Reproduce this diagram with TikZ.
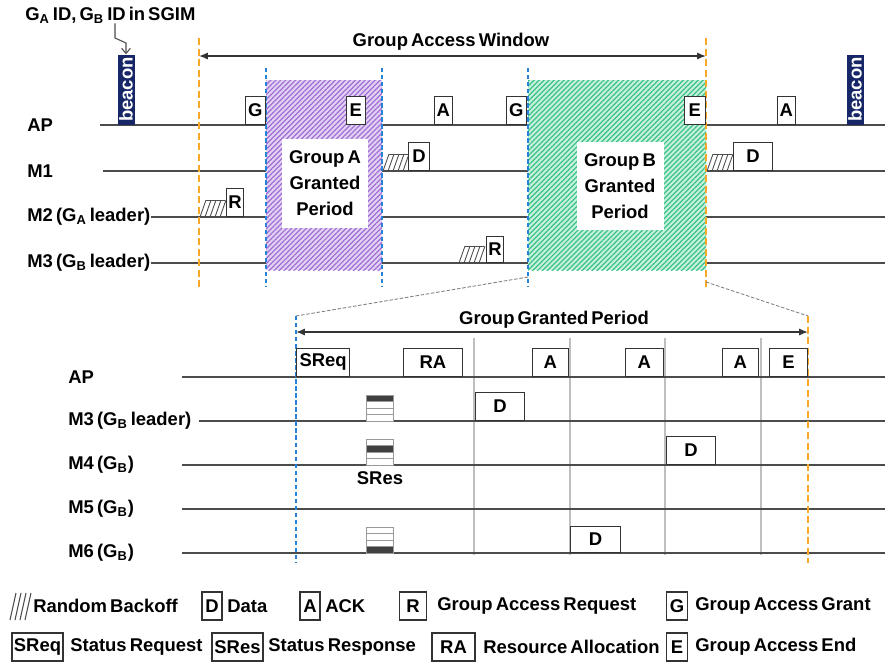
\documentclass[tikz,border=0pt]{standalone}
\usepackage{fontspec}
\setmainfont{Liberation Sans}[WordSpace=0.6]
\usetikzlibrary{arrows.meta,patterns.meta}

\definecolor{beaconblue}{RGB}{22,38,102}
\definecolor{winorange}{RGB}{250,168,40}
\definecolor{perblue}{RGB}{40,130,215}
\definecolor{grpApurple}{RGB}{160,110,212}
\definecolor{grpAbg}{RGB}{226,210,243}
\definecolor{grpBgreen}{RGB}{55,195,135}
\definecolor{grpBbg}{RGB}{200,240,220}

\tikzset{
  txt/.style={font=\bfseries\fontsize{10.5}{13}\selectfont, inner sep=0pt},
  pkt/.style={draw=black!80, line width=0.7pt, fill=white, inner sep=0pt,
    minimum height=0.56cm, font=\bfseries\fontsize{10.5}{13}\selectfont},
  tline/.style={black!70, line width=0.9pt},
  windash/.style={winorange, line width=1.5pt, dash pattern=on 4pt off 2pt},
  perdash/.style={perblue, line width=1pt, dash pattern=on 2.5pt off 1.5pt},
  slotline/.style={black!25, line width=0.6pt},
  zoomline/.style={black!50, line width=0.5pt, dash pattern=on 2pt off 1pt},
  spanarrow/.style={black!80, line width=0.8pt,
    {Latex[length=5pt,width=4pt]}-{Latex[length=5pt,width=4pt]}},
  beacon/.style={fill=beaconblue, text=white, rotate=90, minimum width=1.4cm,
    minimum height=0.34cm, inner sep=0pt, font=\bfseries\fontsize{10.5}{13}\selectfont},
  granted/.style={fill=white, align=center, inner sep=0pt,
    font=\bfseries\fontsize{10.5}{14.8}\selectfont},
  hatch/.style={pattern={Lines[angle=45,distance=2pt,line width=0.7pt]}}
}

% random backoff: bottom left x, y
\newcommand{\bkoff}[2]{%
  \draw[black!70, line width=0.5pt] (#1+6,#2-17) -- (#1+25,#2-17);
  \foreach \k in {0,5,10,15,20}
    \draw[black!70, line width=0.5pt] (#1+\k,#2) -- (#1+\k+6,#2-17);
}
% status response stack: x, bottom y, dark stripe
\newcommand{\sresbox}[3]{%
  \foreach \s in {1,...,4}{
    \pgfmathsetmacro\yt{#2-26+(\s-1)*6.5}
    \ifnum\s=#3 \def\stripecol{black!75}\else\def\stripecol{white}\fi
    \draw[black!40, line width=0.5pt, fill=\stripecol] (#1,\yt) rectangle (#1+27,\yt+6.5);
  }
}

\begin{document}
\begin{tikzpicture}[x=0.02cm, y=-0.02cm]
\useasboundingbox (0,0) rectangle (888,664);

% ---- group access window ----
\node[txt, anchor=west] (apT) at (27,125) {AP};
\node[txt, anchor=west] (m1T) at (27,171) {M1};
\node[txt, anchor=west] (m2T) at (27,217) {M2 (G\textsubscript{A} leader)};
\node[txt, anchor=west] (m3T) at (27,263) {M3 (G\textsubscript{B} leader)};
\draw[tline] (100,125) -- (885,125);
\draw[tline] (103,171) -- (885,171);
\draw[tline] (m2T.east) -- (885,217);
\draw[tline] (m3T.east) -- (885,263);

% granted periods
\fill[grpAbg] (266,80) rectangle (382,270);
\pattern[hatch, pattern color=grpApurple] (266,80) rectangle (382,270);
\fill[grpBbg] (528,80) rectangle (706,270);
\pattern[hatch, pattern color=grpBgreen] (528,80) rectangle (706,270);
\node[granted, minimum width=1.72cm, minimum height=1.78cm] (grpA) at (325,183)
  {Group A\\Granted\\Period};
\node[granted, minimum width=1.74cm, minimum height=1.76cm] (grpB) at (620,186)
  {Group B\\Granted\\Period};

\draw[windash] (199,38) -- (199,287);
\draw[windash] (706,38) -- (706,287);
\draw[perdash] (266,68) -- (266,287);
\draw[perdash] (382,68) -- (382,287);
\draw[perdash] (528,68) -- (528,287);

\coordinate (gawL) at (199,56);
\coordinate (gawR) at (706,56);
\draw[spanarrow] (gawL) -- (gawR);
\node[txt] (gaw) at (451,42) {Group Access Window};

% beacons
\node[beacon, anchor=west] (bcn1) at (126,125) {beacon};
\node[beacon, anchor=west] (bcn2) at (855,125) {beacon};
\node[txt, anchor=west] (sgim) at (25,15) {G\textsubscript{A} ID, G\textsubscript{B} ID in SGIM};
\draw[black!70, line width=0.6pt, -{Straight Barb[length=3pt,width=5pt]}]
  (sgim.south -| 115,0) -- (115,38) -- (126,43) -- (bcn1.east);

% frames on AP
\node[pkt, anchor=south east, minimum width=0.40cm] (gA) at (266,125) {G};
\node[pkt, anchor=south east, minimum width=0.38cm] (eA) at (366,125) {E};
\node[pkt, anchor=south east, minimum width=0.36cm] (a1) at (453,125) {A};
\node[pkt, anchor=south east, minimum width=0.40cm] (gB) at (527,125) {G};
\node[pkt, anchor=south east, minimum width=0.42cm] (eB) at (706,125) {E};
\node[pkt, anchor=south east, minimum width=0.36cm] (a2) at (796,125) {A};
% stations
\bkoff{383}{171}
\node[pkt, anchor=south west, minimum width=0.42cm] (d1) at (408,171) {D};
\bkoff{707}{171}
\node[pkt, anchor=south west, minimum width=0.78cm] (d2) at (733,171) {D};
\bkoff{200}{217}
\node[pkt, anchor=south west, minimum width=0.34cm] (r1) at (226,217) {R};
\bkoff{459}{263}
\node[pkt, anchor=south west, minimum width=0.34cm, minimum height=0.52cm] (r2) at (486,263) {R};

% zoom
\draw[zoomline] (528,277) -- (296,316);
\draw[zoomline] (706,282) -- (808,316);

% ---- group granted period ----
\node[txt, anchor=west] (apB) at (68,377) {AP};
\node[txt, anchor=west] (m3B) at (68,421) {M3 (G\textsubscript{B} leader)};
\node[txt, anchor=west] (m4B) at (68,465) {M4 (G\textsubscript{B})};
\node[txt, anchor=west] (m5B) at (68,509) {M5 (G\textsubscript{B})};
\node[txt, anchor=west] (m6B) at (68,553) {M6 (G\textsubscript{B})};
\foreach \x in {474,570,665,761}
  \draw[slotline] (\x,338) -- (\x,555);
\draw[tline] (182,377) -- (885,377);
\draw[tline] ([xshift=4pt]m3B.east) -- (885,421);
\draw[tline] (182,465) -- (885,465);
\draw[tline] (182,509) -- (885,509);
\draw[tline] (182,553) -- (885,553);

\draw[perdash] (296,316) -- (296,563);
\draw[windash] (808,316) -- (808,563);
\coordinate (ggpL) at (296,332);
\coordinate (ggpR) at (808,332);
\draw[spanarrow] (ggpL) -- (ggpR);
\node[txt] (ggp) at (554,320) {Group Granted Period};

\node[pkt, anchor=south west, minimum width=1.06cm] (sreq) at (296,377) {SReq};
\node[pkt, anchor=south east, minimum width=1.18cm] (ra) at (463,377) {RA};
\node[pkt, anchor=south east, minimum width=0.72cm] (ack1) at (569,377) {A};
\node[pkt, anchor=south east, minimum width=0.76cm] (ack2) at (664,377) {A};
\node[pkt, anchor=south east, minimum width=0.72cm] (ack3) at (759,377) {A};
\node[pkt, anchor=south east, minimum width=0.76cm] (gend) at (808,377) {E};
\node[pkt, anchor=south west, minimum width=0.98cm] (dm3) at (475,421) {D};
\node[pkt, anchor=south west, minimum width=0.98cm] (dm4) at (666,465) {D};
\node[pkt, anchor=south west, minimum width=1.0cm, minimum height=0.52cm] (dm6) at (570,553) {D};
\sresbox{366}{421}{1}
\sresbox{366}{465}{2}
\sresbox{366}{553}{4}
\node[txt] (sres) at (380,478) {SRes};

% ---- legend ----
\draw[black!70, line width=0.6pt] foreach \k in {0,5,10,15} {(10+\k,620) -- (16+\k,593)};
\node[txt, anchor=west] (lgBk) at (33,606) {Random Backoff};
\node[pkt, minimum width=0.40cm] (lgD) at (212,606) {D};
\node[txt, anchor=west] (lgDt) at (227,606) {Data};
\node[pkt, minimum width=0.40cm] (lgA) at (310,606) {A};
\node[txt, anchor=west] (lgAt) at (325,606) {ACK};
\node[pkt, minimum width=0.54cm] (lgR) at (413,606) {R};
\node[txt, anchor=west] (lgRt) at (437,606) {Group Access Request};
\node[pkt, minimum width=0.42cm] (lgG) at (677,606) {G};
\node[txt, anchor=west] (lgGt) at (695,606) {Group Access Grant};
\node[pkt, minimum width=1.02cm] (lgSq) at (37.5,647) {SReq};
\node[txt, anchor=west] (lgSqt) at (70,647) {Status Request};
\node[pkt, minimum width=1.02cm] (lgSs) at (237.5,647) {SRes};
\node[txt, anchor=west] (lgSst) at (268,647) {Status Response};
\node[pkt, minimum width=0.86cm] (lgRA) at (453.5,647) {RA};
\node[txt, anchor=west] (lgRAt) at (483,647) {Resource Allocation};
\node[pkt, minimum width=0.42cm] (lgE) at (677,647) {E};
\node[txt, anchor=west] (lgEt) at (695,647) {Group Access End};
\end{tikzpicture}
\end{document}
